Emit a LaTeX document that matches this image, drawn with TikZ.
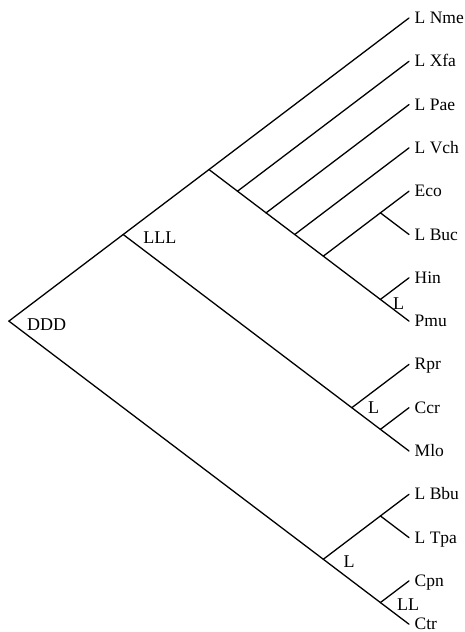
\documentclass[tikz,border=0pt]{standalone}
\usepackage{fontspec}
\setmainfont{Liberation Serif}
\begin{document}
\begin{tikzpicture}[x=1pt,y=-1pt,
  branch/.style={line width=1.3pt,line cap=round,line join=round},
  leaf/.style={anchor=base west,inner sep=0pt,text depth=0pt,font=\fontsize{17.5}{20}\selectfont},
  clade/.style={anchor=base west,inner sep=0pt,text depth=0pt,font=\fontsize{18}{20}\selectfont}]
\useasboundingbox (0,0) rectangle (464,632);
% leaf tips
\coordinate (t0)  at (409,18);
\coordinate (t1)  at (409,61.3);
\coordinate (t2)  at (409,104.6);
\coordinate (t3)  at (409,147.9);
\coordinate (t4)  at (409,191.2);
\coordinate (t5)  at (409,234.5);
\coordinate (t6)  at (409,277.8);
\coordinate (t7)  at (409,321.1);
\coordinate (t8)  at (409,364.4);
\coordinate (t9)  at (409,407.7);
\coordinate (t10) at (409,451);
\coordinate (t11) at (409,494.3);
\coordinate (t12) at (409,537.6);
\coordinate (t13) at (409,580.9);
\coordinate (t14) at (409,624.2);
% internal nodes
\coordinate (R)  at (8.9,321.1);
\coordinate (A)  at (123.2,234.5);
\coordinate (B)  at (209.0,169.55);
\coordinate (B1) at (237.5,191.2);
\coordinate (B2) at (266.1,212.85);
\coordinate (B3) at (294.7,234.5);
\coordinate (B4) at (323.3,256.15);
\coordinate (D1) at (380.4,212.85);
\coordinate (D2) at (380.4,299.45);
\coordinate (C)  at (351.8,407.7);
\coordinate (C1) at (380.4,429.35);
\coordinate (F)  at (323.3,559.25);
\coordinate (F1) at (380.4,515.95);
\coordinate (F2) at (380.4,602.55);
% leaf labels
\node[leaf] (l0)  at ([shift={(5.5,5.5)}]t0)  {L Nme};
\node[leaf] (l1)  at ([shift={(5.5,5.5)}]t1)  {L Xfa};
\node[leaf] (l2)  at ([shift={(5.5,5.5)}]t2)  {L Pae};
\node[leaf] (l3)  at ([shift={(5.5,5.5)}]t3)  {L Vch};
\node[leaf] (l4)  at ([shift={(5.5,5.5)}]t4)  {Eco};
\node[leaf] (l5)  at ([shift={(5.5,5.5)}]t5)  {L Buc};
\node[leaf] (l6)  at ([shift={(5.5,5.5)}]t6)  {Hin};
\node[leaf] (l7)  at ([shift={(5.5,5.5)}]t7)  {Pmu};
\node[leaf] (l8)  at ([shift={(5.5,5.5)}]t8)  {Rpr};
\node[leaf] (l9)  at ([shift={(5.5,5.5)}]t9)  {Ccr};
\node[leaf] (l10) at ([shift={(5.5,5.5)}]t10) {Mlo};
\node[leaf] (l11) at ([shift={(5.5,5.5)}]t11) {L Bbu};
\node[leaf] (l12) at ([shift={(5.5,5.5)}]t12) {L Tpa};
\node[leaf] (l13) at ([shift={(5.5,5.5)}]t13) {Cpn};
\node[leaf] (l14) at ([shift={(5.5,5.5)}]t14) {Ctr};
% clade labels
\node[clade] (cR)  at ([shift={(18,9)}]R)     {DDD};
\node[clade] (cA)  at ([shift={(20,8.5)}]A)   {LLL};
\node[clade] (cD2) at ([shift={(12.6,10.5)}]D2) {L};
\node[clade] (cC)  at ([shift={(16,5.5)}]C)   {L};
\node[clade] (cF)  at ([shift={(20,8.5)}]F)   {L};
\node[clade] (cF2) at ([shift={(16.5,7.5)}]F2) {LL};
% branches
\draw[branch] (R) -- (A);  \draw[branch] (R) -- (F);
\draw[branch] (A) -- (B);  \draw[branch] (A) -- (C);
\draw[branch] (B) -- (t0); \draw[branch] (B) -- (B1);
\draw[branch] (B1) -- (t1); \draw[branch] (B1) -- (B2);
\draw[branch] (B2) -- (t2); \draw[branch] (B2) -- (B3);
\draw[branch] (B3) -- (t3); \draw[branch] (B3) -- (B4);
\draw[branch] (B4) -- (D1); \draw[branch] (B4) -- (D2);
\draw[branch] (D1) -- (t4); \draw[branch] (D1) -- (t5);
\draw[branch] (D2) -- (t6); \draw[branch] (D2) -- (t7);
\draw[branch] (C) -- (t8);  \draw[branch] (C) -- (C1);
\draw[branch] (C1) -- (t9); \draw[branch] (C1) -- (t10);
\draw[branch] (F) -- (F1);  \draw[branch] (F) -- (F2);
\draw[branch] (F1) -- (t11); \draw[branch] (F1) -- (t12);
\draw[branch] (F2) -- (t13); \draw[branch] (F2) -- (t14);
\end{tikzpicture}
\end{document}
